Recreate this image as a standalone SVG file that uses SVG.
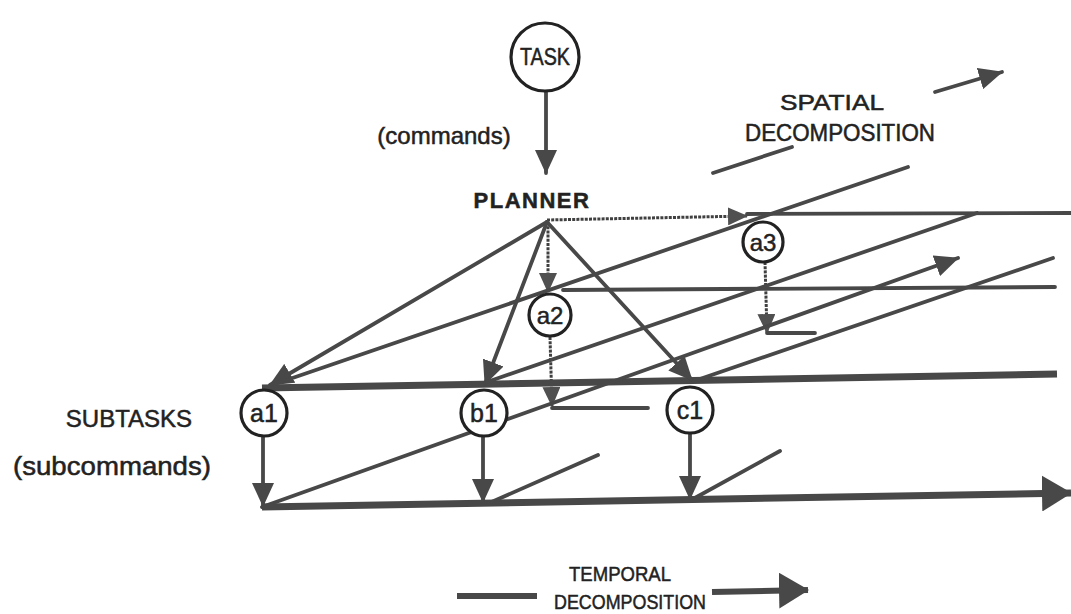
<svg xmlns="http://www.w3.org/2000/svg" width="1071" height="614" viewBox="0 0 1071 614">
<defs>
<style>
.ln{stroke:#484848;stroke-width:3.8;fill:none;stroke-linecap:round}
.thk{stroke:#484848;stroke-width:7;fill:none}
.dot{stroke:#404040;stroke-width:3;fill:none;stroke-dasharray:3 1.2}
.nd{fill:#fff;stroke:#222;stroke-width:3.2}
.t{font-family:"Liberation Sans",Arial,sans-serif;fill:#222;stroke:#222;stroke-width:0.5}
</style>
<marker id="ah" viewBox="0 0 24 22" refX="23" refY="11" markerWidth="24" markerHeight="22" markerUnits="userSpaceOnUse" orient="auto"><path d="M0,0 L24,11 L0,22 z" fill="#484848"/></marker>
<marker id="ahs" viewBox="0 0 20 18" refX="19" refY="9" markerWidth="20" markerHeight="18" markerUnits="userSpaceOnUse" orient="auto"><path d="M0,0 L20,9 L0,18 z" fill="#505050"/></marker>
<marker id="ahb" viewBox="0 0 30 36" refX="29" refY="18" markerWidth="30" markerHeight="36" markerUnits="userSpaceOnUse" orient="auto"><path d="M0,0 L30,18 L0,36 z" fill="#484848"/></marker>
</defs>
<rect width="1071" height="614" fill="#fff"/>
<g id="connectors">
<line class="ln" x1="546" y1="91" x2="546" y2="173" marker-end="url(#ah)"/>
<line class="dot" x1="547" y1="220" x2="747" y2="216" marker-end="url(#ahs)"/>
<line class="dot" x1="548" y1="222" x2="548" y2="292" marker-end="url(#ahs)"/>
<line class="dot" x1="550" y1="337" x2="552" y2="406" marker-end="url(#ahs)"/>
<line class="dot" x1="765" y1="262" x2="767" y2="333" marker-end="url(#ahs)"/>
<line class="ln" x1="747" y1="214" x2="1071" y2="213"/>
<line class="ln" x1="563" y1="290" x2="1055" y2="287"/>
<line class="ln" x1="552" y1="408" x2="648" y2="408"/>
<line class="ln" x1="767" y1="333" x2="815" y2="333"/>
<line class="thk" x1="262" y1="388" x2="1057" y2="374"/>
<line class="ln" x1="547" y1="222" x2="270" y2="385" marker-end="url(#ah)"/>
<line class="ln" x1="547" y1="222" x2="485" y2="384" marker-end="url(#ah)"/>
<line class="ln" x1="547" y1="222" x2="692" y2="380" marker-end="url(#ah)"/>
<line class="ln" x1="275" y1="384" x2="908" y2="167"/>
<line class="ln" x1="487" y1="382" x2="977" y2="213"/>
<line class="ln" x1="697" y1="380" x2="1053" y2="258"/>
<line class="ln" x1="262" y1="507" x2="958" y2="258" marker-end="url(#ah)"/>
<line class="ln" x1="487" y1="504" x2="598" y2="455"/>
<line class="ln" x1="693" y1="499" x2="780" y2="451"/>
<line class="ln" x1="263" y1="437" x2="263" y2="506" marker-end="url(#ah)"/>
<line class="ln" x1="483" y1="437" x2="483" y2="502" marker-end="url(#ah)"/>
<line class="ln" x1="690" y1="434" x2="690" y2="499" marker-end="url(#ah)"/>
<line class="thk" x1="262" y1="507" x2="1071" y2="493" marker-end="url(#ahb)"/>
</g>
<g id="legend-spatial">
<line class="ln" x1="713" y1="173" x2="792" y2="147"/>
<line class="ln" x1="935" y1="92" x2="1002" y2="72" marker-end="url(#ah)"/>
<text class="t" x="832" y="110" font-size="22" text-anchor="middle" textLength="104" lengthAdjust="spacingAndGlyphs">SPATIAL</text>
<text class="t" x="840" y="141" font-size="23" text-anchor="middle" textLength="190" lengthAdjust="spacingAndGlyphs">DECOMPOSITION</text>
</g>
<g id="legend-temporal">
<line class="thk" x1="457" y1="596" x2="537" y2="596" style="stroke-width:6"/>
<line class="thk" x1="712" y1="592" x2="808" y2="590" style="stroke-width:6" marker-end="url(#ahb)"/>
<text class="t" x="620" y="581" font-size="21" text-anchor="middle" textLength="102" lengthAdjust="spacingAndGlyphs">TEMPORAL</text>
<text class="t" x="630" y="609" font-size="21" text-anchor="middle" textLength="152" lengthAdjust="spacingAndGlyphs">DECOMPOSITION</text>
</g>
<g id="task"><circle class="nd" cx="545" cy="57" r="34"/><text class="t" x="545" y="65" font-size="23" text-anchor="middle" textLength="50" lengthAdjust="spacingAndGlyphs">TASK</text></g>
<g id="commands"><text class="t" x="444" y="144" font-size="24" text-anchor="middle">(commands)</text></g>
<g id="planner"><text class="t" x="532" y="208" font-size="22" font-weight="bold" text-anchor="middle" letter-spacing="1.5">PLANNER</text></g>
<g id="a3"><circle class="nd" cx="763" cy="242" r="20"/><text class="t" x="763" y="251" font-size="24" text-anchor="middle">a3</text></g>
<g id="a2"><circle class="nd" cx="550" cy="315" r="21"/><text class="t" x="550" y="324" font-size="24" text-anchor="middle">a2</text></g>
<g id="a1"><circle class="nd" cx="264" cy="413" r="23"/><text class="t" x="264" y="422" font-size="25" text-anchor="middle">a1</text></g>
<g id="b1"><circle class="nd" cx="484" cy="413" r="23"/><text class="t" x="484" y="422" font-size="25" text-anchor="middle">b1</text></g>
<g id="c1"><circle class="nd" cx="690" cy="410" r="23"/><text class="t" x="690" y="419" font-size="25" text-anchor="middle">c1</text></g>
<g id="subtasks"><text class="t" x="129" y="427" font-size="24" text-anchor="middle">SUBTASKS</text><text class="t" x="112" y="475" font-size="25" text-anchor="middle" textLength="198" lengthAdjust="spacingAndGlyphs">(subcommands)</text></g>
</svg>
